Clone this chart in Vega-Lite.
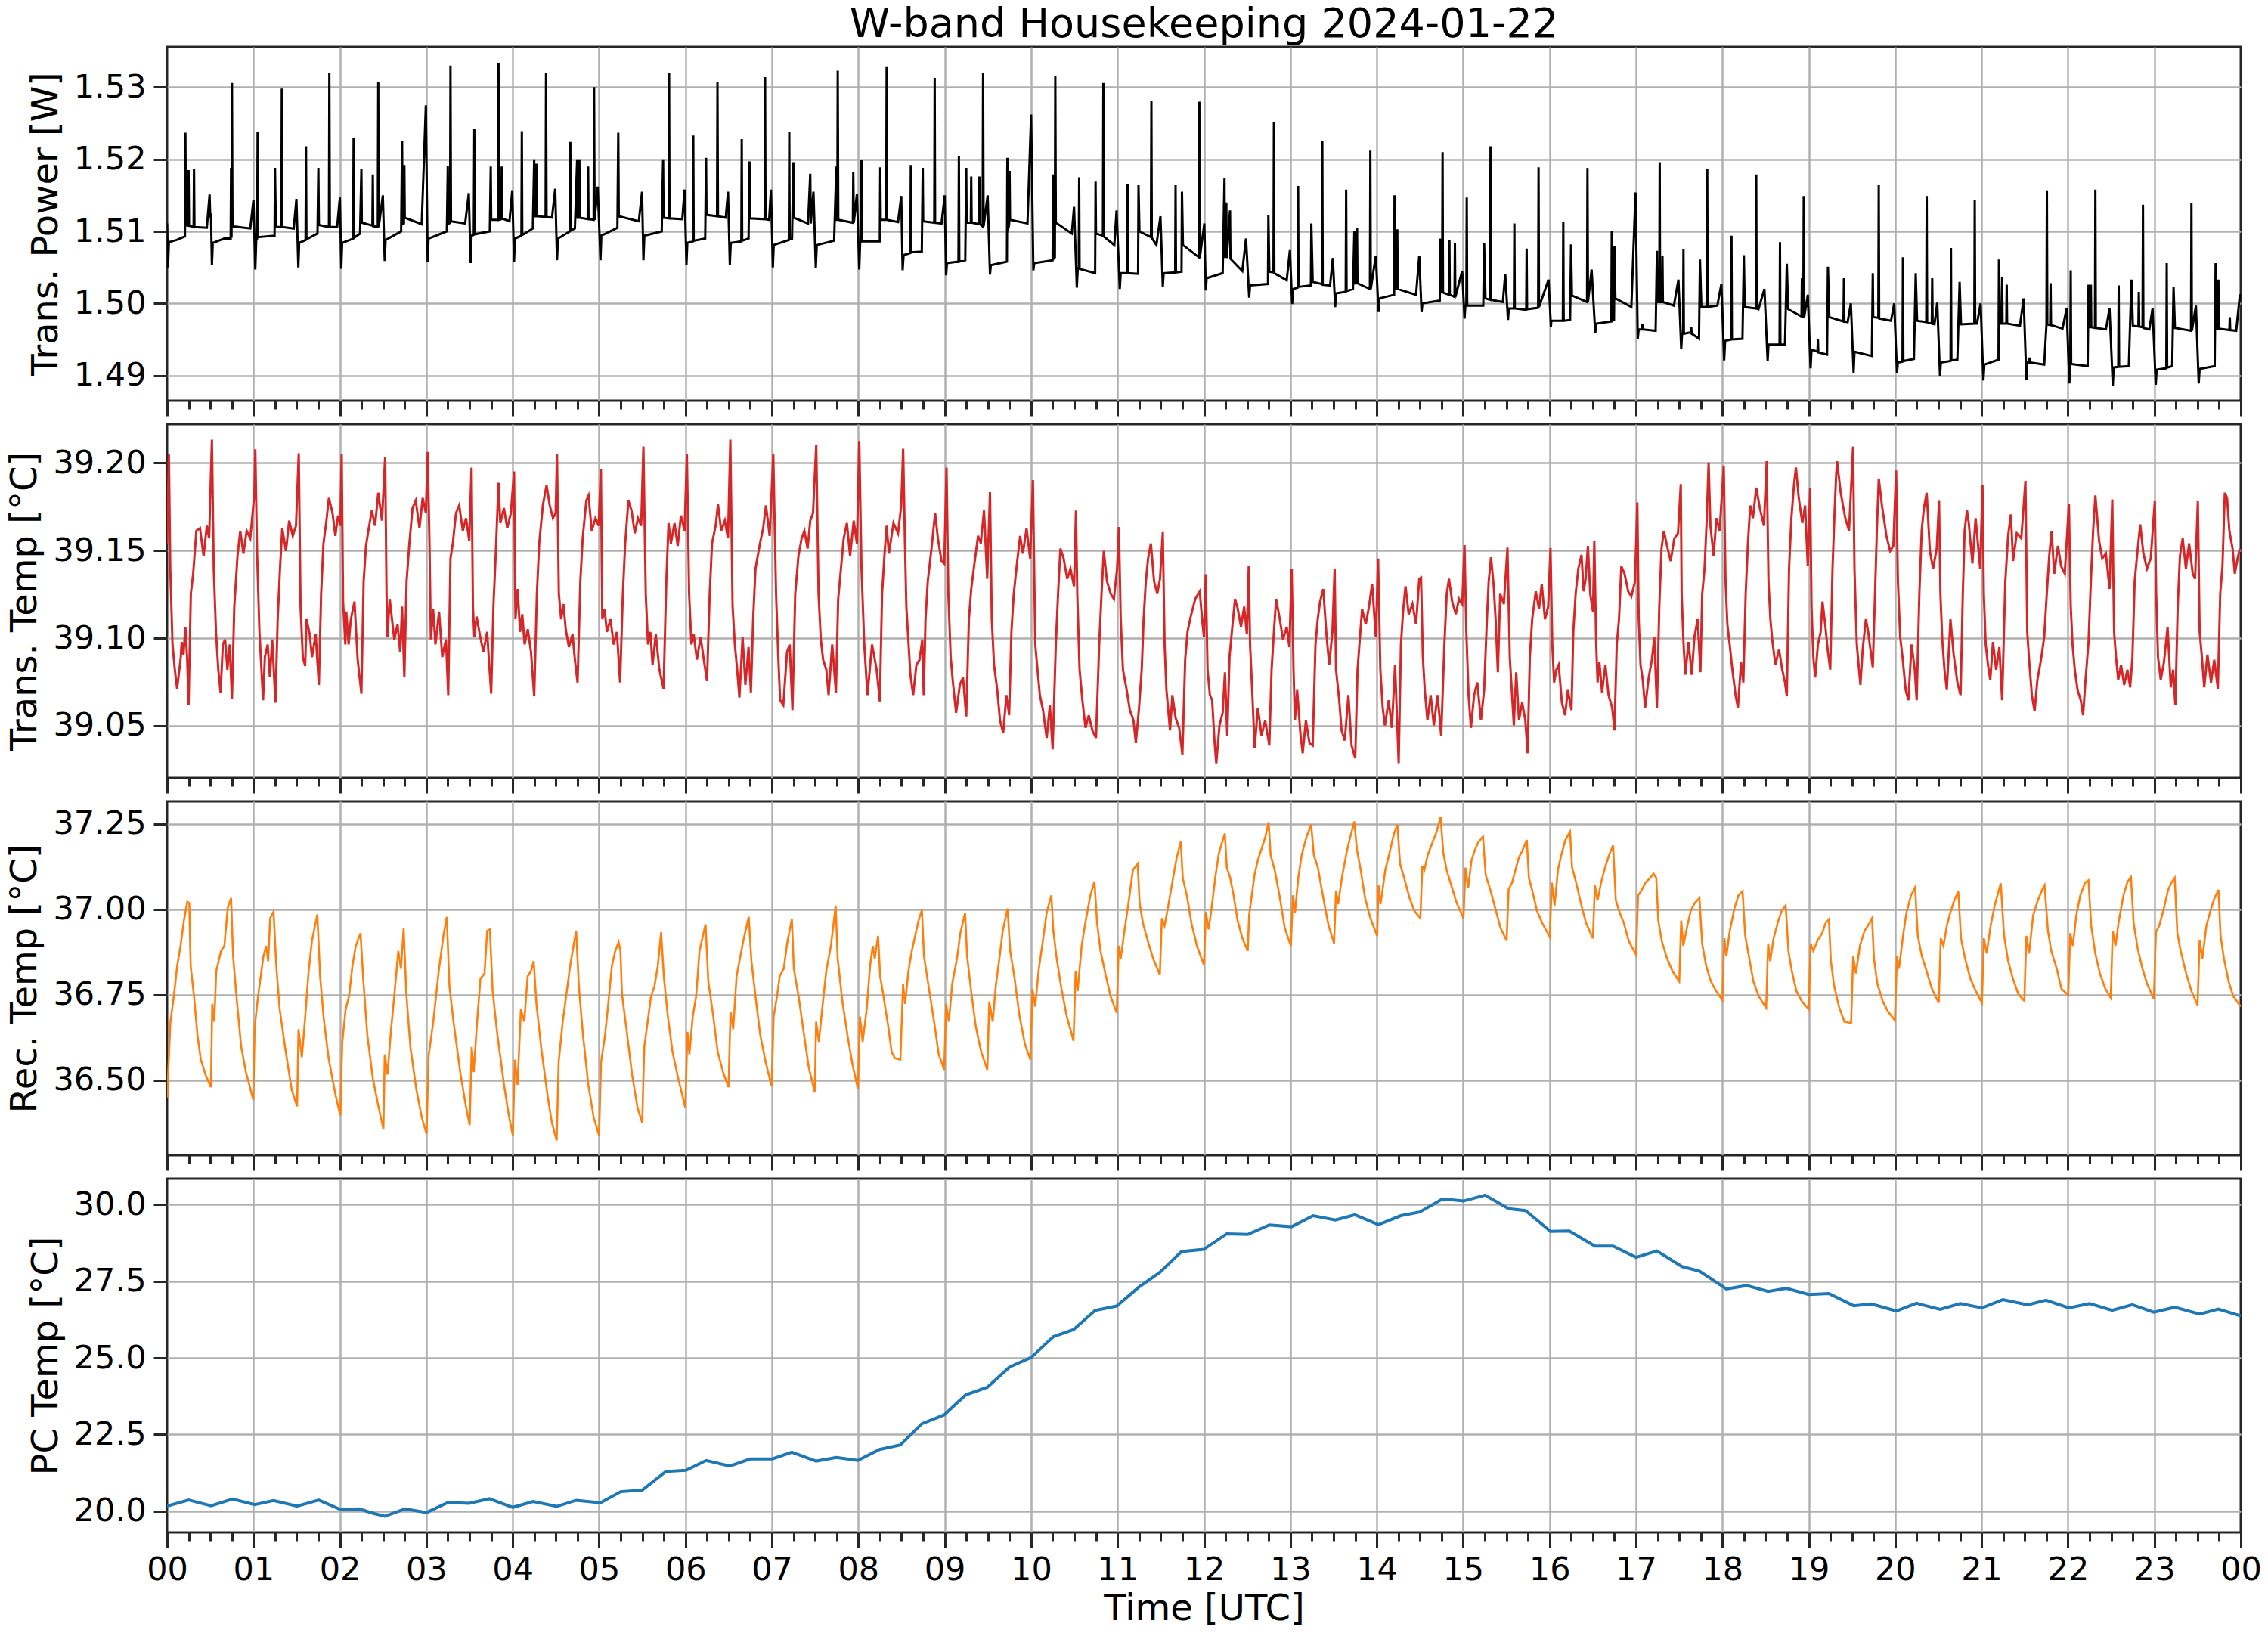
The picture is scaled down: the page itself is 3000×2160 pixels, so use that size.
{
"$schema":"https://vega.github.io/schema/vega-lite/v6.json",
"background":"white",
"padding":{"left":8,"top":4,"right":0,"bottom":0},
"spacing":6,
"datasets":{
"pw":[{"t":0,"v":1.5111},{"t":0.011,"v":1.505},{"t":0.021,"v":1.5085},{"t":0.11,"v":1.5088},{"t":0.207,"v":1.5093},{"t":0.212,"v":1.5237},{"t":0.218,"v":1.5109},{"t":0.244,"v":1.5108},{"t":0.249,"v":1.5185},{"t":0.254,"v":1.5108},{"t":0.307,"v":1.5106},{"t":0.312,"v":1.5187},{"t":0.317,"v":1.5106},{"t":0.46,"v":1.5105},{"t":0.492,"v":1.5151},{"t":0.5,"v":1.5118},{"t":0.508,"v":1.5125},{"t":0.519,"v":1.5053},
{"t":0.529,"v":1.5084},{"t":0.661,"v":1.509},{"t":0.736,"v":1.509},{"t":0.741,"v":1.5188},{"t":0.746,"v":1.5091},{"t":0.751,"v":1.5306},{"t":0.757,"v":1.5107},{"t":0.963,"v":1.5104},{"t":1.0,"v":1.5144},{"t":1.021,"v":1.5047},
{"t":1.032,"v":1.5088},{"t":1.043,"v":1.509},{"t":1.048,"v":1.5238},{"t":1.053,"v":1.5092},{"t":1.244,"v":1.5094},{"t":1.249,"v":1.5188},{"t":1.259,"v":1.5106},{"t":1.323,"v":1.5106},{"t":1.328,"v":1.5298},{"t":1.333,"v":1.5106},{"t":1.466,"v":1.5104},{"t":1.497,"v":1.5145},{"t":1.519,"v":1.505},
{"t":1.529,"v":1.5084},{"t":1.603,"v":1.5088},{"t":1.608,"v":1.5218},{"t":1.613,"v":1.5089},{"t":1.741,"v":1.5097},{"t":1.751,"v":1.5188},{"t":1.757,"v":1.5109},{"t":1.873,"v":1.5106},{"t":1.878,"v":1.532},{"t":1.884,"v":1.5106},{"t":1.968,"v":1.5106},{"t":2.0,"v":1.5147},{"t":2.016,"v":1.5048},
{"t":2.026,"v":1.5084},{"t":2.154,"v":1.509},{"t":2.159,"v":1.5229},{"t":2.164,"v":1.5091},{"t":2.233,"v":1.5097},{"t":2.249,"v":1.5186},{"t":2.254,"v":1.5112},{"t":2.376,"v":1.5108},{"t":2.381,"v":1.5179},{"t":2.386,"v":1.5107},{"t":2.439,"v":1.5106},{"t":2.444,"v":1.5307},{"t":2.45,"v":1.5106},{"t":2.497,"v":1.515},{"t":2.519,"v":1.5059},
{"t":2.529,"v":1.5088},{"t":2.709,"v":1.51},{"t":2.72,"v":1.5225},{"t":2.726,"v":1.511},{"t":2.741,"v":1.5111},{"t":2.746,"v":1.5192},{"t":2.751,"v":1.5119},{"t":2.947,"v":1.511},{"t":2.995,"v":1.5275},{"t":3.016,"v":1.5057},
{"t":3.026,"v":1.509},{"t":3.238,"v":1.51},{"t":3.249,"v":1.5191},{"t":3.254,"v":1.511},{"t":3.275,"v":1.5112},{"t":3.28,"v":1.533},{"t":3.286,"v":1.5114},{"t":3.45,"v":1.5111},{"t":3.492,"v":1.5153},{"t":3.513,"v":1.5056},
{"t":3.524,"v":1.5094},{"t":3.55,"v":1.5095},{"t":3.556,"v":1.5242},{"t":3.561,"v":1.5096},{"t":3.735,"v":1.51},{"t":3.746,"v":1.519},{"t":3.751,"v":1.5116},{"t":3.831,"v":1.5116},{"t":3.836,"v":1.5334},{"t":3.841,"v":1.5116},{"t":3.868,"v":1.5117},{"t":3.873,"v":1.519},{"t":3.878,"v":1.5118},{"t":3.963,"v":1.5114},{"t":3.995,"v":1.5157},{"t":4.016,"v":1.5058},
{"t":4.026,"v":1.509},{"t":4.101,"v":1.5094},{"t":4.106,"v":1.5239},{"t":4.111,"v":1.5095},{"t":4.233,"v":1.5104},{"t":4.249,"v":1.52},{"t":4.254,"v":1.5121},{"t":4.27,"v":1.5121},{"t":4.275,"v":1.5194},{"t":4.28,"v":1.5121},{"t":4.381,"v":1.512},{"t":4.386,"v":1.532},{"t":4.392,"v":1.512},{"t":4.455,"v":1.5119},{"t":4.492,"v":1.5159},{"t":4.513,"v":1.506},
{"t":4.524,"v":1.509},{"t":4.662,"v":1.51},{"t":4.667,"v":1.5224},{"t":4.672,"v":1.5101},{"t":4.72,"v":1.5104},{"t":4.746,"v":1.52},{"t":4.751,"v":1.5119},{"t":4.767,"v":1.5119},{"t":4.772,"v":1.52},{"t":4.777,"v":1.5119},{"t":4.868,"v":1.5117},{"t":4.873,"v":1.519},{"t":4.878,"v":1.5117},{"t":4.937,"v":1.5116},{"t":4.942,"v":1.53},{"t":4.948,"v":1.5116},{"t":4.984,"v":1.5162},{"t":5.016,"v":1.506},
{"t":5.026,"v":1.5094},{"t":5.212,"v":1.5105},{"t":5.222,"v":1.5237},{"t":5.228,"v":1.5121},{"t":5.46,"v":1.5114},{"t":5.497,"v":1.5155},{"t":5.513,"v":1.506},
{"t":5.524,"v":1.5094},{"t":5.725,"v":1.51},{"t":5.741,"v":1.52},{"t":5.746,"v":1.5119},{"t":5.805,"v":1.5118},{"t":5.81,"v":1.532},{"t":5.815,"v":1.5118},{"t":5.963,"v":1.5117},{"t":5.989,"v":1.5158},{"t":6.011,"v":1.5054},
{"t":6.021,"v":1.5084},{"t":6.085,"v":1.5086},{"t":6.09,"v":1.5233},{"t":6.095,"v":1.5087},{"t":6.228,"v":1.509},{"t":6.238,"v":1.5202},{"t":6.243,"v":1.5123},{"t":6.365,"v":1.5121},{"t":6.37,"v":1.5307},{"t":6.376,"v":1.5121},{"t":6.466,"v":1.5119},{"t":6.492,"v":1.5155},{"t":6.513,"v":1.5054},
{"t":6.524,"v":1.5084},{"t":6.646,"v":1.5086},{"t":6.651,"v":1.5228},{"t":6.656,"v":1.5087},{"t":6.73,"v":1.509},{"t":6.741,"v":1.5197},{"t":6.746,"v":1.5118},{"t":6.916,"v":1.5117},{"t":6.921,"v":1.5314},{"t":6.926,"v":1.5117},{"t":6.968,"v":1.5116},{"t":6.989,"v":1.5158},{"t":7.011,"v":1.505},
{"t":7.021,"v":1.5081},{"t":7.196,"v":1.5088},{"t":7.201,"v":1.5238},{"t":7.206,"v":1.5089},{"t":7.233,"v":1.509},{"t":7.249,"v":1.5196},{"t":7.254,"v":1.5119},{"t":7.418,"v":1.5111},{"t":7.444,"v":1.518},{"t":7.45,"v":1.5111},{"t":7.481,"v":1.5155},{"t":7.508,"v":1.5049},
{"t":7.519,"v":1.5081},{"t":7.72,"v":1.5087},{"t":7.746,"v":1.519},{"t":7.751,"v":1.5116},{"t":7.757,"v":1.5116},{"t":7.762,"v":1.5323},{"t":7.768,"v":1.5116},{"t":7.937,"v":1.5112},{"t":7.942,"v":1.5182},{"t":7.948,"v":1.5112},{"t":7.984,"v":1.5152},{"t":8.011,"v":1.5047},
{"t":8.021,"v":1.5084},{"t":8.032,"v":1.5086},{"t":8.037,"v":1.5199},{"t":8.042,"v":1.5086},{"t":8.249,"v":1.5086},{"t":8.254,"v":1.5189},{"t":8.259,"v":1.5116},{"t":8.323,"v":1.5116},{"t":8.328,"v":1.5329},{"t":8.333,"v":1.5116},{"t":8.46,"v":1.5113},{"t":8.497,"v":1.5149},{"t":8.513,"v":1.5046},
{"t":8.524,"v":1.5067},{"t":8.603,"v":1.507},{"t":8.608,"v":1.5192},{"t":8.613,"v":1.5071},{"t":8.735,"v":1.5072},{"t":8.746,"v":1.5188},{"t":8.751,"v":1.5114},{"t":8.879,"v":1.5112},{"t":8.884,"v":1.5313},{"t":8.889,"v":1.5112},{"t":8.963,"v":1.5111},{"t":9.0,"v":1.515},{"t":9.016,"v":1.5039},
{"t":9.026,"v":1.5056},{"t":9.159,"v":1.5058},{"t":9.164,"v":1.5204},{"t":9.169,"v":1.5058},{"t":9.238,"v":1.506},{"t":9.249,"v":1.5188},{"t":9.254,"v":1.5112},{"t":9.302,"v":1.5112},{"t":9.307,"v":1.5176},{"t":9.312,"v":1.5112},{"t":9.397,"v":1.511},{"t":9.402,"v":1.5176},{"t":9.407,"v":1.511},{"t":9.439,"v":1.5107},{"t":9.444,"v":1.532},{"t":9.45,"v":1.5107},{"t":9.497,"v":1.515},{"t":9.524,"v":1.504},
{"t":9.534,"v":1.5053},{"t":9.72,"v":1.5058},{"t":9.725,"v":1.5202},{"t":9.73,"v":1.51},{"t":9.746,"v":1.511},{"t":9.751,"v":1.5184},{"t":9.756,"v":1.5116},{"t":9.958,"v":1.5111},{"t":10.0,"v":1.5262},{"t":10.026,"v":1.5046},
{"t":10.037,"v":1.5056},{"t":10.249,"v":1.506},{"t":10.254,"v":1.5179},{"t":10.259,"v":1.5062},{"t":10.275,"v":1.5064},{"t":10.28,"v":1.5315},{"t":10.286,"v":1.5112},{"t":10.471,"v":1.5097},{"t":10.497,"v":1.5134},{"t":10.529,"v":1.5022},
{"t":10.54,"v":1.5049},{"t":10.551,"v":1.5049},{"t":10.556,"v":1.5175},{"t":10.561,"v":1.5048},{"t":10.741,"v":1.5042},{"t":10.746,"v":1.5169},{"t":10.751,"v":1.5097},{"t":10.831,"v":1.5094},{"t":10.836,"v":1.5306},{"t":10.841,"v":1.5093},{"t":10.963,"v":1.5081},{"t":10.989,"v":1.5129},{"t":11.026,"v":1.502},
{"t":11.037,"v":1.5042},{"t":11.111,"v":1.5042},{"t":11.116,"v":1.5165},{"t":11.121,"v":1.5042},{"t":11.238,"v":1.5041},{"t":11.243,"v":1.5164},{"t":11.254,"v":1.51},{"t":11.387,"v":1.5092},{"t":11.392,"v":1.5281},{"t":11.397,"v":1.5091},{"t":11.45,"v":1.5081},{"t":11.497,"v":1.5121},{"t":11.524,"v":1.5023},
{"t":11.534,"v":1.5042},{"t":11.667,"v":1.5043},{"t":11.672,"v":1.5164},{"t":11.677,"v":1.5043},{"t":11.741,"v":1.5044},{"t":11.746,"v":1.5155},{"t":11.757,"v":1.5081},{"t":11.942,"v":1.5064},{"t":11.947,"v":1.528},{"t":11.952,"v":1.5063},{"t":12.005,"v":1.5111},{"t":12.021,"v":1.5018},
{"t":12.032,"v":1.5035},{"t":12.217,"v":1.5042},{"t":12.238,"v":1.5174},{"t":12.243,"v":1.5063},{"t":12.259,"v":1.514},{"t":12.264,"v":1.5063},{"t":12.302,"v":1.5129},{"t":12.307,"v":1.5062},{"t":12.444,"v":1.5045},{"t":12.487,"v":1.509},{"t":12.524,"v":1.5008},
{"t":12.534,"v":1.5025},{"t":12.741,"v":1.5027},{"t":12.746,"v":1.5122},{"t":12.757,"v":1.5044},{"t":12.805,"v":1.5043},{"t":12.81,"v":1.5252},{"t":12.815,"v":1.5042},{"t":12.958,"v":1.5032},{"t":12.995,"v":1.5074},{"t":13.021,"v":1.4999},
{"t":13.032,"v":1.502},{"t":13.085,"v":1.5022},{"t":13.09,"v":1.5163},{"t":13.095,"v":1.5023},{"t":13.238,"v":1.5025},{"t":13.243,"v":1.5111},{"t":13.259,"v":1.503},{"t":13.365,"v":1.5027},{"t":13.37,"v":1.5226},{"t":13.375,"v":1.5026},{"t":13.46,"v":1.5025},{"t":13.492,"v":1.5063},{"t":13.519,"v":1.4995},
{"t":13.529,"v":1.5014},{"t":13.641,"v":1.5016},{"t":13.646,"v":1.5158},{"t":13.651,"v":1.5017},{"t":13.725,"v":1.502},{"t":13.741,"v":1.51},{"t":13.752,"v":1.5028},{"t":13.767,"v":1.5028},{"t":13.772,"v":1.5105},{"t":13.777,"v":1.5028},{"t":13.921,"v":1.502},{"t":13.926,"v":1.5212},{"t":13.931,"v":1.502},{"t":13.989,"v":1.5066},{"t":14.021,"v":1.4988},
{"t":14.032,"v":1.5007},{"t":14.201,"v":1.5012},{"t":14.206,"v":1.515},{"t":14.211,"v":1.502},{"t":14.233,"v":1.502},{"t":14.238,"v":1.5103},{"t":14.243,"v":1.502},{"t":14.455,"v":1.5012},{"t":14.492,"v":1.5066},{"t":14.519,"v":1.4988},
{"t":14.529,"v":1.5},{"t":14.73,"v":1.5004},{"t":14.735,"v":1.509},{"t":14.74,"v":1.5016},{"t":14.757,"v":1.5016},{"t":14.762,"v":1.521},{"t":14.767,"v":1.5015},{"t":14.836,"v":1.5012},{"t":14.841,"v":1.5088},{"t":14.846,"v":1.5012},{"t":14.9,"v":1.5009},{"t":14.905,"v":1.5084},{"t":14.91,"v":1.5009},{"t":14.989,"v":1.5045},{"t":15.016,"v":1.4979},
{"t":15.026,"v":1.4997},{"t":15.037,"v":1.4997},{"t":15.042,"v":1.5147},{"t":15.047,"v":1.4997},{"t":15.233,"v":1.4997},{"t":15.243,"v":1.5084},{"t":15.259,"v":1.5007},{"t":15.312,"v":1.5005},{"t":15.317,"v":1.5218},{"t":15.322,"v":1.5005},{"t":15.46,"v":1.5002},{"t":15.487,"v":1.5041},{"t":15.519,"v":1.4977},
{"t":15.529,"v":1.4993},{"t":15.588,"v":1.4993},{"t":15.593,"v":1.5111},{"t":15.598,"v":1.4993},{"t":15.73,"v":1.4991},{"t":15.735,"v":1.5076},{"t":15.74,"v":1.4992},{"t":15.868,"v":1.4994},{"t":15.873,"v":1.5189},{"t":15.878,"v":1.4995},{"t":15.989,"v":1.5033},{"t":16.016,"v":1.4968},
{"t":16.021,"v":1.4976},{"t":16.154,"v":1.4976},{"t":16.159,"v":1.5113},{"t":16.164,"v":1.4976},{"t":16.238,"v":1.4977},{"t":16.249,"v":1.5082},{"t":16.259,"v":1.5011},{"t":16.434,"v":1.5002},{"t":16.439,"v":1.5188},{"t":16.445,"v":1.5002},{"t":16.487,"v":1.5047},{"t":16.529,"v":1.4959},
{"t":16.54,"v":1.4972},{"t":16.715,"v":1.4975},{"t":16.72,"v":1.51},{"t":16.725,"v":1.4976},{"t":16.746,"v":1.4977},{"t":16.751,"v":1.5079},{"t":16.762,"v":1.5007},{"t":16.947,"v":1.4995},{"t":16.995,"v":1.5154},{"t":17.021,"v":1.4951},
{"t":17.032,"v":1.4964},{"t":17.069,"v":1.4964},{"t":17.074,"v":1.4972},{"t":17.079,"v":1.4964},{"t":17.228,"v":1.4962},{"t":17.243,"v":1.5073},{"t":17.248,"v":1.5002},{"t":17.27,"v":1.5002},{"t":17.275,"v":1.5196},{"t":17.28,"v":1.5002},{"t":17.302,"v":1.5002},{"t":17.307,"v":1.5066},{"t":17.312,"v":1.5002},{"t":17.439,"v":1.4997},{"t":17.492,"v":1.5033},{"t":17.524,"v":1.4937},
{"t":17.534,"v":1.4958},{"t":17.545,"v":1.4958},{"t":17.55,"v":1.5076},{"t":17.555,"v":1.4958},{"t":17.635,"v":1.496},{"t":17.64,"v":1.4967},{"t":17.645,"v":1.4958},{"t":17.73,"v":1.4951},{"t":17.741,"v":1.5061},{"t":17.757,"v":1.4995},{"t":17.82,"v":1.4995},{"t":17.825,"v":1.5187},{"t":17.83,"v":1.4995},{"t":17.942,"v":1.4997},{"t":17.989,"v":1.5027},{"t":18.021,"v":1.4921},
{"t":18.032,"v":1.4948},{"t":18.101,"v":1.495},{"t":18.106,"v":1.5094},{"t":18.111,"v":1.495},{"t":18.233,"v":1.4951},{"t":18.249,"v":1.5067},{"t":18.259,"v":1.4995},{"t":18.387,"v":1.4993},{"t":18.392,"v":1.5179},{"t":18.397,"v":1.4993},{"t":18.418,"v":1.4992},{"t":18.487,"v":1.502},{"t":18.524,"v":1.492},
{"t":18.534,"v":1.4943},{"t":18.662,"v":1.4943},{"t":18.667,"v":1.5085},{"t":18.672,"v":1.4943},{"t":18.725,"v":1.4943},{"t":18.746,"v":1.5055},{"t":18.762,"v":1.4992},{"t":18.916,"v":1.4982},{"t":18.921,"v":1.5035},{"t":18.926,"v":1.4981},{"t":18.937,"v":1.4981},{"t":18.942,"v":1.5149},{"t":18.947,"v":1.4981},{"t":18.989,"v":1.5012},{"t":19.021,"v":1.491},
{"t":19.032,"v":1.4936},{"t":19.101,"v":1.4933},{"t":19.106,"v":1.495},{"t":19.111,"v":1.4932},{"t":19.212,"v":1.4929},{"t":19.222,"v":1.5051},{"t":19.238,"v":1.4981},{"t":19.402,"v":1.4975},{"t":19.407,"v":1.5035},{"t":19.412,"v":1.4975},{"t":19.45,"v":1.4974},{"t":19.487,"v":1.5},{"t":19.519,"v":1.4904},
{"t":19.529,"v":1.4933},{"t":19.73,"v":1.4927},{"t":19.741,"v":1.5042},{"t":19.746,"v":1.4981},{"t":19.805,"v":1.498},{"t":19.81,"v":1.5164},{"t":19.815,"v":1.4979},{"t":19.952,"v":1.4976},{"t":19.989,"v":1.5},{"t":20.021,"v":1.4904},
{"t":20.032,"v":1.4918},{"t":20.085,"v":1.4919},{"t":20.09,"v":1.5064},{"t":20.095,"v":1.492},{"t":20.217,"v":1.4923},{"t":20.238,"v":1.5042},{"t":20.254,"v":1.4976},{"t":20.36,"v":1.4974},{"t":20.365,"v":1.5149},{"t":20.37,"v":1.4974},{"t":20.424,"v":1.4972},{"t":20.429,"v":1.5035},{"t":20.434,"v":1.4972},{"t":20.455,"v":1.4971},{"t":20.487,"v":1.5001},{"t":20.519,"v":1.4899},
{"t":20.529,"v":1.4918},{"t":20.641,"v":1.492},{"t":20.646,"v":1.5077},{"t":20.651,"v":1.4921},{"t":20.72,"v":1.4922},{"t":20.746,"v":1.503},{"t":20.762,"v":1.4971},{"t":20.916,"v":1.4972},{"t":20.921,"v":1.5144},{"t":20.926,"v":1.4972},{"t":20.947,"v":1.4972},{"t":20.989,"v":1.5},{"t":21.021,"v":1.4893},
{"t":21.032,"v":1.4915},{"t":21.196,"v":1.4922},{"t":21.201,"v":1.5061},{"t":21.212,"v":1.4972},{"t":21.233,"v":1.4972},{"t":21.238,"v":1.5037},{"t":21.243,"v":1.4972},{"t":21.286,"v":1.4972},{"t":21.291,"v":1.5026},{"t":21.296,"v":1.4972},{"t":21.444,"v":1.4969},{"t":21.487,"v":1.5007},{"t":21.519,"v":1.4894},
{"t":21.529,"v":1.4918},{"t":21.551,"v":1.4918},{"t":21.556,"v":1.4925},{"t":21.561,"v":1.4918},{"t":21.725,"v":1.4915},{"t":21.751,"v":1.4971},{"t":21.756,"v":1.5157},{"t":21.761,"v":1.4971},{"t":21.794,"v":1.497},{"t":21.799,"v":1.5028},{"t":21.804,"v":1.497},{"t":21.937,"v":1.4965},{"t":21.984,"v":1.4993},{"t":22.016,"v":1.4889},
{"t":22.026,"v":1.4916},{"t":22.032,"v":1.5046},{"t":22.037,"v":1.4916},{"t":22.228,"v":1.4913},{"t":22.238,"v":1.5026},{"t":22.243,"v":1.4967},{"t":22.26,"v":1.4967},{"t":22.265,"v":1.5026},{"t":22.27,"v":1.4967},{"t":22.312,"v":1.4966},{"t":22.317,"v":1.5158},{"t":22.322,"v":1.4966},{"t":22.439,"v":1.4964},{"t":22.481,"v":1.4993},{"t":22.519,"v":1.4886},
{"t":22.529,"v":1.4911},{"t":22.582,"v":1.4912},{"t":22.587,"v":1.5025},{"t":22.592,"v":1.4912},{"t":22.704,"v":1.4913},{"t":22.735,"v":1.5033},{"t":22.751,"v":1.4969},{"t":22.815,"v":1.4968},{"t":22.82,"v":1.5016},{"t":22.825,"v":1.4968},{"t":22.863,"v":1.4967},{"t":22.868,"v":1.5137},{"t":22.873,"v":1.4966},{"t":22.942,"v":1.4964},{"t":22.979,"v":1.4993},{"t":23.016,"v":1.4887},
{"t":23.026,"v":1.4908},{"t":23.138,"v":1.491},{"t":23.143,"v":1.5056},{"t":23.148,"v":1.4911},{"t":23.206,"v":1.4913},{"t":23.222,"v":1.5023},{"t":23.238,"v":1.4966},{"t":23.424,"v":1.4962},{"t":23.429,"v":1.5139},{"t":23.434,"v":1.4962},{"t":23.481,"v":1.4997},{"t":23.513,"v":1.4889},
{"t":23.524,"v":1.4909},{"t":23.698,"v":1.4913},{"t":23.709,"v":1.5056},{"t":23.72,"v":1.4965},{"t":23.736,"v":1.4965},{"t":23.741,"v":1.5033},{"t":23.746,"v":1.4965},{"t":23.868,"v":1.4963},{"t":23.873,"v":1.4981},{"t":23.878,"v":1.4963},{"t":23.947,"v":1.4962},{"t":23.989,"v":1.5011},{"t":24.0,"v":1.5011}],
"tt":[{"t":0,"v":39.1541},{"t":0.021,"v":39.2049},{"t":0.037,"v":39.1397},{"t":0.063,"v":39.0964},{"t":0.09,"v":39.082},{"t":0.116,"v":39.0711},{"t":0.159,"v":39.0892},{"t":0.169,"v":39.0978},{"t":0.19,"v":39.0906},{"t":0.212,"v":39.1065},{"t":0.233,"v":39.0877},{"t":0.249,"v":39.0618},{"t":0.275,"v":39.1253},{"t":0.302,"v":39.1368},{"t":0.339,"v":39.1613},{"t":0.381,"v":39.1628},{"t":0.423,"v":39.1469},{"t":0.46,"v":39.1642},{"t":0.487,"v":39.157},{"t":0.508,"v":39.1945},{"t":0.519,"v":39.2133},
{"t":0.54,"v":39.1397},{"t":0.566,"v":39.1036},{"t":0.593,"v":39.082},{"t":0.619,"v":39.069},{"t":0.646,"v":39.0964},{"t":0.672,"v":39.0993},{"t":0.698,"v":39.082},{"t":0.725,"v":39.0964},{"t":0.751,"v":39.0654},{"t":0.778,"v":39.118},{"t":0.815,"v":39.1469},{"t":0.847,"v":39.1613},{"t":0.884,"v":39.1483},{"t":0.921,"v":39.1613},{"t":0.963,"v":39.157},{"t":1.011,"v":39.183},{"t":1.021,"v":39.2078},
{"t":1.042,"v":39.1483},{"t":1.069,"v":39.1036},{"t":1.111,"v":39.0646},{"t":1.132,"v":39.0892},{"t":1.164,"v":39.0964},{"t":1.19,"v":39.0776},{"t":1.217,"v":39.0993},{"t":1.254,"v":39.0632},{"t":1.28,"v":39.1108},{"t":1.307,"v":39.1397},{"t":1.333,"v":39.1628},{"t":1.376,"v":39.1498},{"t":1.413,"v":39.1671},{"t":1.455,"v":39.1584},{"t":1.492,"v":39.1642},{"t":1.524,"v":39.2056},
{"t":1.545,"v":39.118},{"t":1.571,"v":39.0892},{"t":1.598,"v":39.0841},{"t":1.614,"v":39.1108},{"t":1.651,"v":39.1022},{"t":1.677,"v":39.0892},{"t":1.72,"v":39.1022},{"t":1.757,"v":39.0733},{"t":1.783,"v":39.1253},{"t":1.81,"v":39.1541},{"t":1.841,"v":39.1657},{"t":1.873,"v":39.1801},{"t":1.915,"v":39.1714},{"t":1.947,"v":39.1584},{"t":1.979,"v":39.17},{"t":2.005,"v":39.1642},{"t":2.021,"v":39.2049},
{"t":2.037,"v":39.1209},{"t":2.063,"v":39.0964},{"t":2.074,"v":39.1152},{"t":2.101,"v":39.0964},{"t":2.127,"v":39.1108},{"t":2.169,"v":39.1209},{"t":2.206,"v":39.0877},{"t":2.249,"v":39.0683},{"t":2.275,"v":39.1325},{"t":2.302,"v":39.1527},{"t":2.339,"v":39.1642},{"t":2.37,"v":39.1729},{"t":2.407,"v":39.1642},{"t":2.444,"v":39.183},{"t":2.487,"v":39.1671},{"t":2.524,"v":39.2035},
{"t":2.54,"v":39.1253},{"t":2.55,"v":39.1007},{"t":2.577,"v":39.1224},{"t":2.603,"v":39.1108},{"t":2.63,"v":39.0993},{"t":2.667,"v":39.1079},{"t":2.698,"v":39.0921},{"t":2.72,"v":39.118},{"t":2.746,"v":39.0776},{"t":2.772,"v":39.1325},{"t":2.804,"v":39.1541},{"t":2.841,"v":39.1743},{"t":2.878,"v":39.1786},{"t":2.921,"v":39.1628},{"t":2.958,"v":39.1801},{"t":2.995,"v":39.1714},{"t":3.016,"v":39.2063},
{"t":3.037,"v":39.1541},{"t":3.053,"v":39.0993},{"t":3.079,"v":39.1166},{"t":3.106,"v":39.0964},{"t":3.148,"v":39.1152},{"t":3.185,"v":39.0892},{"t":3.228,"v":39.0993},{"t":3.254,"v":39.0675},{"t":3.28,"v":39.1455},{"t":3.307,"v":39.1541},{"t":3.344,"v":39.1714},{"t":3.381,"v":39.1758},{"t":3.423,"v":39.1613},{"t":3.46,"v":39.1685},{"t":3.497,"v":39.1556},{"t":3.524,"v":39.1974},
{"t":3.54,"v":39.118},{"t":3.556,"v":39.1007},{"t":3.582,"v":39.1123},{"t":3.619,"v":39.1022},{"t":3.661,"v":39.0921},{"t":3.704,"v":39.1036},{"t":3.751,"v":39.0683},{"t":3.778,"v":39.1195},{"t":3.804,"v":39.1483},{"t":3.836,"v":39.1887},{"t":3.857,"v":39.1657},{"t":3.899,"v":39.1743},{"t":3.937,"v":39.1628},{"t":3.979,"v":39.1714},{"t":4.016,"v":39.1952},
{"t":4.032,"v":39.1108},{"t":4.058,"v":39.1281},{"t":4.085,"v":39.1036},{"t":4.111,"v":39.1137},{"t":4.138,"v":39.0964},{"t":4.175,"v":39.1051},{"t":4.212,"v":39.0921},{"t":4.249,"v":39.0668},{"t":4.28,"v":39.1253},{"t":4.307,"v":39.1541},{"t":4.349,"v":39.1758},{"t":4.392,"v":39.1873},{"t":4.429,"v":39.1758},{"t":4.466,"v":39.1685},{"t":4.497,"v":39.1714},{"t":4.513,"v":39.2049},
{"t":4.534,"v":39.1253},{"t":4.561,"v":39.1108},{"t":4.587,"v":39.1195},{"t":4.614,"v":39.1051},{"t":4.651,"v":39.0949},{"t":4.693,"v":39.1022},{"t":4.72,"v":39.0877},{"t":4.751,"v":39.0747},{"t":4.783,"v":39.1325},{"t":4.81,"v":39.157},{"t":4.852,"v":39.1786},{"t":4.878,"v":39.1815},{"t":4.915,"v":39.1613},{"t":4.958,"v":39.1685},{"t":4.995,"v":39.1642},{"t":5.021,"v":39.1965},
{"t":5.037,"v":39.1108},{"t":5.063,"v":39.1166},{"t":5.09,"v":39.1036},{"t":5.132,"v":39.1108},{"t":5.169,"v":39.0964},{"t":5.206,"v":39.1036},{"t":5.243,"v":39.0747},{"t":5.275,"v":39.1253},{"t":5.302,"v":39.1541},{"t":5.339,"v":39.1786},{"t":5.376,"v":39.1729},{"t":5.413,"v":39.1599},{"t":5.45,"v":39.1685},{"t":5.487,"v":39.1642},{"t":5.513,"v":39.2095},
{"t":5.54,"v":39.1253},{"t":5.566,"v":39.0964},{"t":5.593,"v":39.1036},{"t":5.619,"v":39.0848},{"t":5.656,"v":39.1022},{"t":5.698,"v":39.082},{"t":5.746,"v":39.0711},{"t":5.778,"v":39.1325},{"t":5.804,"v":39.1657},{"t":5.831,"v":39.1541},{"t":5.873,"v":39.1657},{"t":5.91,"v":39.1527},{"t":5.947,"v":39.17},{"t":5.989,"v":39.1613},{"t":6.016,"v":39.2049},
{"t":6.042,"v":39.1253},{"t":6.069,"v":39.0964},{"t":6.095,"v":39.1022},{"t":6.132,"v":39.0877},{"t":6.175,"v":39.1007},{"t":6.212,"v":39.0877},{"t":6.249,"v":39.0755},{"t":6.28,"v":39.1253},{"t":6.307,"v":39.1541},{"t":6.349,"v":39.1642},{"t":6.376,"v":39.1765},{"t":6.413,"v":39.1613},{"t":6.455,"v":39.1671},{"t":6.492,"v":39.157},{"t":6.519,"v":39.2133},
{"t":6.545,"v":39.118},{"t":6.571,"v":39.0964},{"t":6.598,"v":39.082},{"t":6.624,"v":39.0661},{"t":6.661,"v":39.1007},{"t":6.693,"v":39.0733},{"t":6.73,"v":39.0949},{"t":6.757,"v":39.069},{"t":6.783,"v":39.1108},{"t":6.81,"v":39.1397},{"t":6.862,"v":39.1541},{"t":6.899,"v":39.1628},{"t":6.931,"v":39.1758},{"t":6.974,"v":39.1584},{"t":7.016,"v":39.2049},
{"t":7.048,"v":39.1253},{"t":7.074,"v":39.0892},{"t":7.095,"v":39.0646},{"t":7.132,"v":39.0618},{"t":7.175,"v":39.0921},{"t":7.206,"v":39.0964},{"t":7.238,"v":39.0589},{"t":7.27,"v":39.1253},{"t":7.307,"v":39.1469},{"t":7.344,"v":39.157},{"t":7.376,"v":39.1613},{"t":7.413,"v":39.1512},{"t":7.444,"v":39.1671},{"t":7.476,"v":39.1714},{"t":7.513,"v":39.2104},
{"t":7.54,"v":39.1253},{"t":7.566,"v":39.0993},{"t":7.593,"v":39.0877},{"t":7.63,"v":39.082},{"t":7.656,"v":39.0675},{"t":7.698,"v":39.0964},{"t":7.741,"v":39.069},{"t":7.767,"v":39.1224},{"t":7.799,"v":39.1397},{"t":7.831,"v":39.157},{"t":7.868,"v":39.1657},{"t":7.905,"v":39.1469},{"t":7.947,"v":39.1671},{"t":7.984,"v":39.1541},{"t":8.011,"v":39.2126},
{"t":8.037,"v":39.1397},{"t":8.069,"v":39.0964},{"t":8.106,"v":39.0675},{"t":8.159,"v":39.0964},{"t":8.212,"v":39.082},{"t":8.249,"v":39.0639},{"t":8.275,"v":39.1253},{"t":8.302,"v":39.1469},{"t":8.328,"v":39.1642},{"t":8.354,"v":39.1483},{"t":8.407,"v":39.1657},{"t":8.46,"v":39.1599},{"t":8.497,"v":39.1758},{"t":8.519,"v":39.2082},
{"t":8.54,"v":39.1541},{"t":8.556,"v":39.118},{"t":8.582,"v":39.0964},{"t":8.603,"v":39.0791},{"t":8.635,"v":39.0675},{"t":8.672,"v":39.0848},{"t":8.709,"v":39.0877},{"t":8.741,"v":39.0993},{"t":8.757,"v":39.0675},{"t":8.778,"v":39.1108},{"t":8.804,"v":39.1325},{"t":8.847,"v":39.1512},{"t":8.889,"v":39.1714},{"t":8.921,"v":39.157},{"t":8.963,"v":39.144},{"t":8.995,"v":39.1426},{"t":9.021,"v":39.1974},
{"t":9.042,"v":39.1253},{"t":9.069,"v":39.0892},{"t":9.095,"v":39.0747},{"t":9.132,"v":39.0574},{"t":9.175,"v":39.0733},{"t":9.212,"v":39.0776},{"t":9.249,"v":39.0553},{"t":9.28,"v":39.1108},{"t":9.307,"v":39.1281},{"t":9.344,"v":39.1426},{"t":9.386,"v":39.1584},{"t":9.418,"v":39.1541},{"t":9.455,"v":39.1729},{"t":9.492,"v":39.1339},{"t":9.524,"v":39.1833},
{"t":9.545,"v":39.1108},{"t":9.571,"v":39.0848},{"t":9.608,"v":39.0704},{"t":9.64,"v":39.0531},{"t":9.677,"v":39.0459},{"t":9.714,"v":39.0675},{"t":9.746,"v":39.056},{"t":9.772,"v":39.1036},{"t":9.799,"v":39.1253},{"t":9.836,"v":39.1426},{"t":9.873,"v":39.1584},{"t":9.905,"v":39.1483},{"t":9.947,"v":39.1628},{"t":9.989,"v":39.1455},{"t":10.021,"v":39.1902},
{"t":10.048,"v":39.0964},{"t":10.074,"v":39.082},{"t":10.101,"v":39.0675},{"t":10.138,"v":39.0589},{"t":10.18,"v":39.043},{"t":10.217,"v":39.0618},{"t":10.249,"v":39.0365},{"t":10.286,"v":39.0964},{"t":10.312,"v":39.1253},{"t":10.339,"v":39.1512},{"t":10.376,"v":39.1455},{"t":10.418,"v":39.1339},{"t":10.455,"v":39.1397},{"t":10.497,"v":39.1296},{"t":10.519,"v":39.1729},
{"t":10.534,"v":39.1253},{"t":10.561,"v":39.082},{"t":10.593,"v":39.0646},{"t":10.63,"v":39.0488},{"t":10.667,"v":39.056},{"t":10.709,"v":39.0473},{"t":10.751,"v":39.043},{"t":10.788,"v":39.0964},{"t":10.815,"v":39.1253},{"t":10.841,"v":39.1498},{"t":10.878,"v":39.1325},{"t":10.921,"v":39.1253},{"t":10.958,"v":39.1224},{"t":10.995,"v":39.1397},{"t":11.016,"v":39.1635},
{"t":11.037,"v":39.1108},{"t":11.063,"v":39.082},{"t":11.106,"v":39.0704},{"t":11.143,"v":39.0589},{"t":11.185,"v":39.0531},{"t":11.212,"v":39.0401},{"t":11.249,"v":39.0603},{"t":11.28,"v":39.082},{"t":11.302,"v":39.1108},{"t":11.328,"v":39.1325},{"t":11.354,"v":39.1455},{"t":11.386,"v":39.1541},{"t":11.423,"v":39.1325},{"t":11.46,"v":39.1253},{"t":11.492,"v":39.1339},{"t":11.524,"v":39.1606},
{"t":11.545,"v":39.0964},{"t":11.566,"v":39.0704},{"t":11.608,"v":39.0473},{"t":11.635,"v":39.0675},{"t":11.672,"v":39.0545},{"t":11.714,"v":39.0488},{"t":11.751,"v":39.0336},{"t":11.783,"v":39.0877},{"t":11.81,"v":39.1036},{"t":11.847,"v":39.1123},{"t":11.899,"v":39.1224},{"t":11.952,"v":39.1267},{"t":11.979,"v":39.1108},{"t":12.0,"v":39.1007},{"t":12.021,"v":39.1365},
{"t":12.042,"v":39.082},{"t":12.069,"v":39.0675},{"t":12.095,"v":39.0646},{"t":12.122,"v":39.0416},{"t":12.143,"v":39.0286},{"t":12.18,"v":39.0502},{"t":12.217,"v":39.0574},{"t":12.243,"v":39.0805},{"t":12.27,"v":39.0444},{"t":12.296,"v":39.0892},{"t":12.323,"v":39.1036},{"t":12.36,"v":39.1224},{"t":12.392,"v":39.1166},{"t":12.429,"v":39.1065},{"t":12.466,"v":39.118},{"t":12.497,"v":39.1022},{"t":12.519,"v":39.1411},
{"t":12.534,"v":39.0964},{"t":12.561,"v":39.0675},{"t":12.587,"v":39.0372},{"t":12.624,"v":39.0603},{"t":12.667,"v":39.0444},{"t":12.709,"v":39.0531},{"t":12.757,"v":39.0387},{"t":12.783,"v":39.082},{"t":12.81,"v":39.1036},{"t":12.836,"v":39.1224},{"t":12.878,"v":39.1108},{"t":12.915,"v":39.0993},{"t":12.958,"v":39.1065},{"t":12.989,"v":39.0949},{"t":13.016,"v":39.1397},
{"t":13.037,"v":39.082},{"t":13.053,"v":39.0531},{"t":13.079,"v":39.0704},{"t":13.116,"v":39.0459},{"t":13.143,"v":39.0343},{"t":13.18,"v":39.0531},{"t":13.222,"v":39.0401},{"t":13.259,"v":39.0387},{"t":13.291,"v":39.0964},{"t":13.317,"v":39.1108},{"t":13.344,"v":39.1209},{"t":13.381,"v":39.1281},{"t":13.418,"v":39.1022},{"t":13.45,"v":39.0848},{"t":13.487,"v":39.1036},{"t":13.513,"v":39.1397},
{"t":13.529,"v":39.082},{"t":13.566,"v":39.0646},{"t":13.593,"v":39.0473},{"t":13.63,"v":39.0416},{"t":13.672,"v":39.0675},{"t":13.709,"v":39.0387},{"t":13.751,"v":39.0315},{"t":13.778,"v":39.082},{"t":13.804,"v":39.0993},{"t":13.831,"v":39.1166},{"t":13.873,"v":39.1079},{"t":13.91,"v":39.118},{"t":13.947,"v":39.131},{"t":13.989,"v":39.1007},{"t":14.016,"v":39.1455},
{"t":14.042,"v":39.082},{"t":14.069,"v":39.0603},{"t":14.095,"v":39.0502},{"t":14.138,"v":39.0646},{"t":14.175,"v":39.0488},{"t":14.212,"v":39.0848},{"t":14.254,"v":39.0286},{"t":14.28,"v":39.0964},{"t":14.307,"v":39.1166},{"t":14.333,"v":39.1296},{"t":14.37,"v":39.1137},{"t":14.413,"v":39.1195},{"t":14.455,"v":39.1079},{"t":14.492,"v":39.1339},{"t":14.513,"v":39.1346},
{"t":14.534,"v":39.0892},{"t":14.556,"v":39.0704},{"t":14.587,"v":39.0531},{"t":14.624,"v":39.0675},{"t":14.661,"v":39.0502},{"t":14.704,"v":39.0675},{"t":14.746,"v":39.0444},{"t":14.783,"v":39.0964},{"t":14.81,"v":39.1253},{"t":14.836,"v":39.1339},{"t":14.873,"v":39.1209},{"t":14.915,"v":39.1137},{"t":14.952,"v":39.1224},{"t":14.989,"v":39.1195},{"t":15.016,"v":39.1531},
{"t":15.037,"v":39.1036},{"t":15.063,"v":39.0675},{"t":15.09,"v":39.0488},{"t":15.127,"v":39.0675},{"t":15.164,"v":39.0747},{"t":15.206,"v":39.0531},{"t":15.243,"v":39.0704},{"t":15.275,"v":39.1108},{"t":15.296,"v":39.1325},{"t":15.323,"v":39.1462},{"t":15.354,"v":39.1296},{"t":15.376,"v":39.1108},{"t":15.402,"v":39.0805},{"t":15.429,"v":39.1253},{"t":15.471,"v":39.1195},{"t":15.513,"v":39.1517},
{"t":15.54,"v":39.0892},{"t":15.566,"v":39.0675},{"t":15.587,"v":39.0502},{"t":15.614,"v":39.0805},{"t":15.646,"v":39.0531},{"t":15.683,"v":39.0632},{"t":15.72,"v":39.0531},{"t":15.746,"v":39.0343},{"t":15.772,"v":39.0892},{"t":15.799,"v":39.1108},{"t":15.841,"v":39.1267},{"t":15.878,"v":39.1166},{"t":15.91,"v":39.131},{"t":15.947,"v":39.1108},{"t":15.984,"v":39.118},{"t":16.011,"v":39.1515},
{"t":16.032,"v":39.0964},{"t":16.053,"v":39.0747},{"t":16.079,"v":39.082},{"t":16.106,"v":39.0848},{"t":16.143,"v":39.0632},{"t":16.18,"v":39.056},{"t":16.212,"v":39.0704},{"t":16.254,"v":39.0589},{"t":16.275,"v":39.1036},{"t":16.302,"v":39.1253},{"t":16.333,"v":39.1397},{"t":16.37,"v":39.1476},{"t":16.395,"v":39.1267},{"t":16.418,"v":39.1339},{"t":16.444,"v":39.1527},{"t":16.471,"v":39.1253},{"t":16.503,"v":39.1152},{"t":16.518,"v":39.1556},
{"t":16.54,"v":39.0964},{"t":16.556,"v":39.0747},{"t":16.577,"v":39.0863},{"t":16.608,"v":39.069},{"t":16.646,"v":39.0848},{"t":16.683,"v":39.0675},{"t":16.725,"v":39.0603},{"t":16.751,"v":39.0473},{"t":16.778,"v":39.0964},{"t":16.804,"v":39.1108},{"t":16.831,"v":39.1411},{"t":16.868,"v":39.1368},{"t":16.91,"v":39.1267},{"t":16.947,"v":39.1238},{"t":16.989,"v":39.1325},{"t":17.016,"v":39.1775},
{"t":17.032,"v":39.1108},{"t":17.053,"v":39.0848},{"t":17.079,"v":39.0762},{"t":17.106,"v":39.0603},{"t":17.148,"v":39.0776},{"t":17.185,"v":39.0877},{"t":17.212,"v":39.1007},{"t":17.243,"v":39.0603},{"t":17.27,"v":39.118},{"t":17.296,"v":39.1512},{"t":17.323,"v":39.1613},{"t":17.36,"v":39.1527},{"t":17.402,"v":39.144},{"t":17.444,"v":39.157},{"t":17.487,"v":39.1599},{"t":17.519,"v":39.188},
{"t":17.529,"v":39.1253},{"t":17.55,"v":39.0978},{"t":17.571,"v":39.0791},{"t":17.608,"v":39.0978},{"t":17.646,"v":39.0791},{"t":17.677,"v":39.1007},{"t":17.714,"v":39.1108},{"t":17.746,"v":39.0805},{"t":17.767,"v":39.1253},{"t":17.794,"v":39.1397},{"t":17.82,"v":39.1685},{"t":17.841,"v":39.2003},{"t":17.862,"v":39.1642},{"t":17.899,"v":39.1469},{"t":17.931,"v":39.1685},{"t":17.968,"v":39.1613},{"t":18.016,"v":39.1981},
{"t":18.037,"v":39.1325},{"t":18.058,"v":39.1079},{"t":18.085,"v":39.0964},{"t":18.116,"v":39.082},{"t":18.153,"v":39.0675},{"t":18.18,"v":39.0603},{"t":18.217,"v":39.0863},{"t":18.243,"v":39.0747},{"t":18.27,"v":39.1253},{"t":18.296,"v":39.1541},{"t":18.323,"v":39.1758},{"t":18.354,"v":39.1685},{"t":18.392,"v":39.1859},{"t":18.434,"v":39.1743},{"t":18.481,"v":39.1642},{"t":18.513,"v":39.201},
{"t":18.534,"v":39.1325},{"t":18.556,"v":39.1108},{"t":18.577,"v":39.0993},{"t":18.614,"v":39.0848},{"t":18.656,"v":39.0935},{"t":18.693,"v":39.082},{"t":18.725,"v":39.0747},{"t":18.746,"v":39.0668},{"t":18.772,"v":39.1397},{"t":18.799,"v":39.1685},{"t":18.831,"v":39.1887},{"t":18.852,"v":39.1974},{"t":18.884,"v":39.1801},{"t":18.926,"v":39.1657},{"t":18.958,"v":39.1758},{"t":18.989,"v":39.1411},{"t":19.016,"v":39.1859},
{"t":19.032,"v":39.118},{"t":19.053,"v":39.0892},{"t":19.074,"v":39.0776},{"t":19.106,"v":39.0964},{"t":19.138,"v":39.1036},{"t":19.159,"v":39.1209},{"t":19.19,"v":39.1079},{"t":19.222,"v":39.0921},{"t":19.249,"v":39.082},{"t":19.275,"v":39.1397},{"t":19.296,"v":39.1685},{"t":19.317,"v":39.1931},{"t":19.328,"v":39.201},{"t":19.37,"v":39.183},{"t":19.423,"v":39.1685},{"t":19.466,"v":39.1613},{"t":19.513,"v":39.2094},
{"t":19.529,"v":39.1397},{"t":19.556,"v":39.0964},{"t":19.582,"v":39.082},{"t":19.598,"v":39.0733},{"t":19.624,"v":39.0935},{"t":19.661,"v":39.1108},{"t":19.688,"v":39.1036},{"t":19.714,"v":39.0935},{"t":19.741,"v":39.0834},{"t":19.767,"v":39.1253},{"t":19.788,"v":39.1613},{"t":19.81,"v":39.1912},{"t":19.847,"v":39.1758},{"t":19.899,"v":39.1584},{"t":19.942,"v":39.1498},{"t":19.979,"v":39.1527},{"t":20.011,"v":39.1957},
{"t":20.032,"v":39.1325},{"t":20.058,"v":39.1007},{"t":20.085,"v":39.0892},{"t":20.122,"v":39.0704},{"t":20.153,"v":39.0646},{"t":20.19,"v":39.0964},{"t":20.227,"v":39.082},{"t":20.249,"v":39.0646},{"t":20.28,"v":39.1253},{"t":20.307,"v":39.1613},{"t":20.333,"v":39.1743},{"t":20.365,"v":39.183},{"t":20.402,"v":39.1498},{"t":20.439,"v":39.1397},{"t":20.481,"v":39.1512},{"t":20.508,"v":39.1784},
{"t":20.524,"v":39.1253},{"t":20.545,"v":39.0993},{"t":20.571,"v":39.082},{"t":20.598,"v":39.0704},{"t":20.64,"v":39.1108},{"t":20.677,"v":39.0906},{"t":20.72,"v":39.0747},{"t":20.757,"v":39.0675},{"t":20.783,"v":39.1253},{"t":20.804,"v":39.1613},{"t":20.831,"v":39.1729},{"t":20.852,"v":39.1657},{"t":20.894,"v":39.1426},{"t":20.931,"v":39.1685},{"t":20.984,"v":39.1397},{"t":21.011,"v":39.1873},
{"t":21.026,"v":39.1253},{"t":21.048,"v":39.0964},{"t":21.074,"v":39.0848},{"t":21.101,"v":39.0762},{"t":21.132,"v":39.0978},{"t":21.169,"v":39.082},{"t":21.206,"v":39.0949},{"t":21.238,"v":39.0646},{"t":21.275,"v":39.1325},{"t":21.307,"v":39.1584},{"t":21.339,"v":39.1707},{"t":21.365,"v":39.144},{"t":21.407,"v":39.1599},{"t":21.46,"v":39.157},{"t":21.508,"v":39.1898},
{"t":21.529,"v":39.1036},{"t":21.55,"v":39.0877},{"t":21.582,"v":39.0675},{"t":21.614,"v":39.0582},{"t":21.646,"v":39.0762},{"t":21.688,"v":39.0877},{"t":21.725,"v":39.1007},{"t":21.751,"v":39.1224},{"t":21.783,"v":39.1469},{"t":21.81,"v":39.1613},{"t":21.841,"v":39.1368},{"t":21.884,"v":39.1527},{"t":21.921,"v":39.1411},{"t":21.963,"v":39.1368},{"t":22.011,"v":39.1768},
{"t":22.032,"v":39.118},{"t":22.053,"v":39.0964},{"t":22.079,"v":39.082},{"t":22.111,"v":39.0704},{"t":22.148,"v":39.0646},{"t":22.175,"v":39.056},{"t":22.201,"v":39.0747},{"t":22.238,"v":39.0978},{"t":22.265,"v":39.1325},{"t":22.291,"v":39.1613},{"t":22.317,"v":39.1815},{"t":22.36,"v":39.1556},{"t":22.397,"v":39.1455},{"t":22.439,"v":39.1483},{"t":22.481,"v":39.1281},{"t":22.513,"v":39.1792},
{"t":22.534,"v":39.1036},{"t":22.556,"v":39.0892},{"t":22.582,"v":39.0762},{"t":22.614,"v":39.0848},{"t":22.651,"v":39.0733},{"t":22.688,"v":39.082},{"t":22.72,"v":39.0719},{"t":22.746,"v":39.0892},{"t":22.772,"v":39.1325},{"t":22.799,"v":39.1469},{"t":22.836,"v":39.1649},{"t":22.873,"v":39.1483},{"t":22.915,"v":39.1397},{"t":22.958,"v":39.1455},{"t":23.005,"v":39.1782},
{"t":23.021,"v":39.1253},{"t":23.042,"v":39.0892},{"t":23.074,"v":39.0762},{"t":23.111,"v":39.0863},{"t":23.153,"v":39.1065},{"t":23.19,"v":39.0719},{"t":23.217,"v":39.082},{"t":23.243,"v":39.0618},{"t":23.27,"v":39.118},{"t":23.296,"v":39.1469},{"t":23.328,"v":39.157},{"t":23.365,"v":39.1397},{"t":23.402,"v":39.1541},{"t":23.444,"v":39.1368},{"t":23.471,"v":39.1339},{"t":23.503,"v":39.1782},
{"t":23.524,"v":39.1036},{"t":23.55,"v":39.0892},{"t":23.577,"v":39.0719},{"t":23.614,"v":39.0906},{"t":23.656,"v":39.0747},{"t":23.693,"v":39.0877},{"t":23.735,"v":39.0711},{"t":23.762,"v":39.1253},{"t":23.788,"v":39.1411},{"t":23.815,"v":39.183},{"t":23.841,"v":39.1801},{"t":23.868,"v":39.1613},{"t":23.905,"v":39.1512},{"t":23.931,"v":39.1368},{"t":23.963,"v":39.1455},{"t":23.989,"v":39.1512}],
"rt":[{"t":0,"v":36.449},{"t":0.039,"v":36.671},{"t":0.078,"v":36.745},{"t":0.117,"v":36.834},{"t":0.156,"v":36.893},{"t":0.195,"v":36.967},{"t":0.234,"v":37.022},{"t":0.257,"v":37.018},{"t":0.273,"v":36.834},{"t":0.312,"v":36.745},{"t":0.351,"v":36.634},{"t":0.39,"v":36.56},{"t":0.445,"v":36.516},{"t":0.507,"v":36.479},
{"t":0.523,"v":36.723},{"t":0.546,"v":36.671},{"t":0.569,"v":36.819},{"t":0.624,"v":36.878},{"t":0.663,"v":36.893},{"t":0.702,"v":37.004},{"t":0.741,"v":37.033},{"t":0.764,"v":36.863},{"t":0.803,"v":36.745},{"t":0.858,"v":36.597},{"t":0.913,"v":36.523},{"t":0.998,"v":36.442},
{"t":1.014,"v":36.656},{"t":1.053,"v":36.745},{"t":1.115,"v":36.863},{"t":1.147,"v":36.893},{"t":1.17,"v":36.848},{"t":1.193,"v":36.974},{"t":1.232,"v":36.993},{"t":1.264,"v":36.834},{"t":1.303,"v":36.708},{"t":1.365,"v":36.597},{"t":1.443,"v":36.471},{"t":1.505,"v":36.423},
{"t":1.521,"v":36.649},{"t":1.56,"v":36.567},{"t":1.599,"v":36.686},{"t":1.638,"v":36.819},{"t":1.677,"v":36.908},{"t":1.739,"v":36.985},{"t":1.771,"v":36.804},{"t":1.817,"v":36.671},{"t":1.872,"v":36.56},{"t":1.95,"v":36.456},{"t":2.005,"v":36.397},
{"t":2.028,"v":36.612},{"t":2.067,"v":36.708},{"t":2.106,"v":36.745},{"t":2.145,"v":36.834},{"t":2.184,"v":36.893},{"t":2.239,"v":36.93},{"t":2.27,"v":36.797},{"t":2.317,"v":36.634},{"t":2.379,"v":36.508},{"t":2.442,"v":36.427},{"t":2.504,"v":36.357},
{"t":2.519,"v":36.575},{"t":2.551,"v":36.516},{"t":2.59,"v":36.641},{"t":2.629,"v":36.745},{"t":2.676,"v":36.878},{"t":2.707,"v":36.826},{"t":2.738,"v":36.945},{"t":2.769,"v":36.752},{"t":2.816,"v":36.597},{"t":2.886,"v":36.471},{"t":2.949,"v":36.39},{"t":3.003,"v":36.342},
{"t":3.027,"v":36.571},{"t":3.081,"v":36.671},{"t":3.144,"v":36.819},{"t":3.175,"v":36.878},{"t":3.198,"v":36.922},{"t":3.237,"v":36.978},{"t":3.268,"v":36.774},{"t":3.315,"v":36.671},{"t":3.393,"v":36.523},{"t":3.456,"v":36.427},{"t":3.502,"v":36.368},
{"t":3.526,"v":36.597},{"t":3.549,"v":36.523},{"t":3.588,"v":36.671},{"t":3.627,"v":36.797},{"t":3.674,"v":36.812},{"t":3.705,"v":36.937},{"t":3.736,"v":36.941},{"t":3.768,"v":36.76},{"t":3.822,"v":36.634},{"t":3.9,"v":36.486},{"t":3.955,"v":36.397},{"t":4.002,"v":36.338},
{"t":4.025,"v":36.56},{"t":4.056,"v":36.486},{"t":4.095,"v":36.708},{"t":4.134,"v":36.671},{"t":4.173,"v":36.804},{"t":4.212,"v":36.819},{"t":4.243,"v":36.848},{"t":4.275,"v":36.723},{"t":4.329,"v":36.597},{"t":4.407,"v":36.449},{"t":4.454,"v":36.375},{"t":4.509,"v":36.323},
{"t":4.532,"v":36.553},{"t":4.579,"v":36.671},{"t":4.626,"v":36.76},{"t":4.665,"v":36.834},{"t":4.704,"v":36.893},{"t":4.735,"v":36.937},{"t":4.766,"v":36.774},{"t":4.813,"v":36.634},{"t":4.875,"v":36.486},{"t":4.938,"v":36.39},{"t":5.0,"v":36.338},
{"t":5.023,"v":36.553},{"t":5.07,"v":36.634},{"t":5.109,"v":36.73},{"t":5.148,"v":36.834},{"t":5.187,"v":36.878},{"t":5.226,"v":36.904},{"t":5.247,"v":36.878},{"t":5.265,"v":36.752},{"t":5.328,"v":36.626},{"t":5.382,"v":36.516},{"t":5.445,"v":36.419},{"t":5.499,"v":36.375},
{"t":5.523,"v":36.597},{"t":5.562,"v":36.671},{"t":5.601,"v":36.745},{"t":5.64,"v":36.774},{"t":5.679,"v":36.834},{"t":5.718,"v":36.933},{"t":5.749,"v":36.804},{"t":5.796,"v":36.686},{"t":5.85,"v":36.582},{"t":5.913,"v":36.508},{"t":5.998,"v":36.419},
{"t":6.022,"v":36.641},{"t":6.045,"v":36.575},{"t":6.084,"v":36.686},{"t":6.123,"v":36.745},{"t":6.162,"v":36.878},{"t":6.201,"v":36.922},{"t":6.232,"v":36.956},{"t":6.264,"v":36.789},{"t":6.318,"v":36.693},{"t":6.373,"v":36.582},{"t":6.435,"v":36.523},{"t":6.498,"v":36.479},
{"t":6.521,"v":36.7},{"t":6.552,"v":36.649},{"t":6.591,"v":36.804},{"t":6.63,"v":36.856},{"t":6.669,"v":36.908},{"t":6.732,"v":36.978},{"t":6.763,"v":36.848},{"t":6.81,"v":36.745},{"t":6.864,"v":36.634},{"t":6.927,"v":36.553},{"t":6.997,"v":36.482},
{"t":7.02,"v":36.686},{"t":7.059,"v":36.745},{"t":7.09,"v":36.804},{"t":7.137,"v":36.826},{"t":7.176,"v":36.9},{"t":7.231,"v":36.971},{"t":7.254,"v":36.826},{"t":7.309,"v":36.745},{"t":7.371,"v":36.634},{"t":7.426,"v":36.538},{"t":7.496,"v":36.464},
{"t":7.512,"v":36.671},{"t":7.543,"v":36.612},{"t":7.582,"v":36.708},{"t":7.629,"v":36.819},{"t":7.683,"v":36.893},{"t":7.738,"v":37.011},{"t":7.761,"v":36.856},{"t":7.816,"v":36.73},{"t":7.878,"v":36.626},{"t":7.933,"v":36.545},{"t":7.995,"v":36.475},
{"t":8.019,"v":36.686},{"t":8.05,"v":36.612},{"t":8.097,"v":36.708},{"t":8.136,"v":36.834},{"t":8.167,"v":36.893},{"t":8.19,"v":36.856},{"t":8.229,"v":36.922},{"t":8.253,"v":36.804},{"t":8.292,"v":36.745},{"t":8.347,"v":36.656},{"t":8.386,"v":36.582},{"t":8.424,"v":36.564},{"t":8.487,"v":36.56},
{"t":8.518,"v":36.782},{"t":8.541,"v":36.723},{"t":8.58,"v":36.819},{"t":8.619,"v":36.878},{"t":8.658,"v":36.922},{"t":8.697,"v":36.967},{"t":8.736,"v":36.998},{"t":8.76,"v":36.863},{"t":8.814,"v":36.774},{"t":8.877,"v":36.671},{"t":8.931,"v":36.575},{"t":8.994,"v":36.53},
{"t":9.017,"v":36.723},{"t":9.048,"v":36.671},{"t":9.087,"v":36.782},{"t":9.142,"v":36.856},{"t":9.181,"v":36.93},{"t":9.236,"v":36.99},{"t":9.259,"v":36.863},{"t":9.306,"v":36.76},{"t":9.36,"v":36.656},{"t":9.423,"v":36.582},{"t":9.493,"v":36.53},
{"t":9.516,"v":36.73},{"t":9.555,"v":36.671},{"t":9.594,"v":36.782},{"t":9.633,"v":36.856},{"t":9.672,"v":36.937},{"t":9.727,"v":37.002},{"t":9.758,"v":36.878},{"t":9.805,"v":36.804},{"t":9.867,"v":36.686},{"t":9.93,"v":36.604},{"t":9.992,"v":36.56},
{"t":10.016,"v":36.767},{"t":10.047,"v":36.715},{"t":10.086,"v":36.819},{"t":10.14,"v":36.915},{"t":10.179,"v":36.989},{"t":10.234,"v":37.041},{"t":10.257,"v":36.937},{"t":10.296,"v":36.856},{"t":10.351,"v":36.767},{"t":10.413,"v":36.686},{"t":10.491,"v":36.615},
{"t":10.515,"v":36.819},{"t":10.538,"v":36.76},{"t":10.585,"v":36.893},{"t":10.632,"v":36.967},{"t":10.686,"v":37.041},{"t":10.733,"v":37.081},{"t":10.764,"v":36.959},{"t":10.803,"v":36.878},{"t":10.866,"v":36.804},{"t":10.92,"v":36.745},{"t":10.991,"v":36.697},
{"t":11.014,"v":36.893},{"t":11.037,"v":36.856},{"t":11.076,"v":36.93},{"t":11.131,"v":37.026},{"t":11.178,"v":37.115},{"t":11.233,"v":37.133},{"t":11.256,"v":37.018},{"t":11.295,"v":36.959},{"t":11.35,"v":36.908},{"t":11.412,"v":36.856},{"t":11.49,"v":36.808},
{"t":11.513,"v":36.974},{"t":11.544,"v":36.952},{"t":11.583,"v":37.004},{"t":11.638,"v":37.085},{"t":11.685,"v":37.151},{"t":11.732,"v":37.198},{"t":11.755,"v":37.092},{"t":11.802,"v":37.041},{"t":11.856,"v":36.959},{"t":11.919,"v":36.893},{"t":12.0,"v":36.837},
{"t":12.023,"v":36.992},{"t":12.055,"v":36.941},{"t":12.094,"v":37.015},{"t":12.133,"v":37.096},{"t":12.172,"v":37.163},{"t":12.211,"v":37.196},{"t":12.242,"v":37.222},{"t":12.265,"v":37.122},{"t":12.304,"v":37.092},{"t":12.343,"v":37.041},{"t":12.39,"v":36.967},{"t":12.445,"v":36.915},{"t":12.507,"v":36.878},
{"t":12.523,"v":36.982},{"t":12.546,"v":37.026},{"t":12.585,"v":37.1},{"t":12.624,"v":37.144},{"t":12.663,"v":37.174},{"t":12.71,"v":37.211},{"t":12.749,"v":37.255},{"t":12.772,"v":37.159},{"t":12.819,"v":37.115},{"t":12.874,"v":37.041},{"t":12.936,"v":36.945},{"t":13.006,"v":36.893},
{"t":13.03,"v":37.041},{"t":13.053,"v":36.989},{"t":13.092,"v":37.092},{"t":13.131,"v":37.159},{"t":13.186,"v":37.211},{"t":13.241,"v":37.248},{"t":13.272,"v":37.159},{"t":13.319,"v":37.122},{"t":13.381,"v":37.033},{"t":13.443,"v":36.952},{"t":13.506,"v":36.9},
{"t":13.529,"v":37.055},{"t":13.553,"v":37.015},{"t":13.599,"v":37.096},{"t":13.654,"v":37.17},{"t":13.693,"v":37.211},{"t":13.74,"v":37.257},{"t":13.771,"v":37.174},{"t":13.81,"v":37.122},{"t":13.865,"v":37.033},{"t":13.927,"v":36.974},{"t":14.005,"v":36.922},
{"t":14.021,"v":37.07},{"t":14.044,"v":37.015},{"t":14.099,"v":37.115},{"t":14.146,"v":37.163},{"t":14.2,"v":37.222},{"t":14.239,"v":37.248},{"t":14.27,"v":37.133},{"t":14.317,"v":37.092},{"t":14.38,"v":37.033},{"t":14.434,"v":36.996},{"t":14.505,"v":36.974},
{"t":14.528,"v":37.128},{"t":14.551,"v":37.115},{"t":14.59,"v":37.159},{"t":14.645,"v":37.196},{"t":14.692,"v":37.226},{"t":14.739,"v":37.271},{"t":14.77,"v":37.166},{"t":14.809,"v":37.115},{"t":14.863,"v":37.07},{"t":14.926,"v":37.018},{"t":15.004,"v":36.974},
{"t":15.027,"v":37.122},{"t":15.058,"v":37.063},{"t":15.097,"v":37.144},{"t":15.136,"v":37.174},{"t":15.175,"v":37.196},{"t":15.23,"v":37.213},{"t":15.261,"v":37.1},{"t":15.308,"v":37.063},{"t":15.371,"v":37.004},{"t":15.433,"v":36.945},{"t":15.503,"v":36.908},
{"t":15.527,"v":37.059},{"t":15.566,"v":37.078},{"t":15.605,"v":37.115},{"t":15.644,"v":37.151},{"t":15.69,"v":37.174},{"t":15.737,"v":37.203},{"t":15.761,"v":37.092},{"t":15.8,"v":37.055},{"t":15.854,"v":36.996},{"t":15.917,"v":36.959},{"t":16.003,"v":36.919},
{"t":16.026,"v":37.078},{"t":16.058,"v":37.011},{"t":16.097,"v":37.115},{"t":16.136,"v":37.159},{"t":16.183,"v":37.203},{"t":16.237,"v":37.227},{"t":16.261,"v":37.122},{"t":16.308,"v":37.078},{"t":16.369,"v":37.011},{"t":16.424,"v":36.959},{"t":16.502,"v":36.915},
{"t":16.525,"v":37.07},{"t":16.556,"v":37.026},{"t":16.596,"v":37.078},{"t":16.642,"v":37.122},{"t":16.689,"v":37.159},{"t":16.736,"v":37.187},{"t":16.767,"v":37.026},{"t":16.814,"v":36.989},{"t":16.861,"v":36.959},{"t":16.915,"v":36.908},{"t":17.001,"v":36.867},
{"t":17.025,"v":37.041},{"t":17.064,"v":37.055},{"t":17.11,"v":37.078},{"t":17.165,"v":37.092},{"t":17.204,"v":37.104},{"t":17.235,"v":37.092},{"t":17.259,"v":36.967},{"t":17.298,"v":36.908},{"t":17.36,"v":36.856},{"t":17.423,"v":36.819},{"t":17.501,"v":36.789},
{"t":17.524,"v":36.967},{"t":17.548,"v":36.893},{"t":17.595,"v":36.952},{"t":17.634,"v":36.996},{"t":17.68,"v":37.018},{"t":17.735,"v":37.033},{"t":17.766,"v":36.9},{"t":17.813,"v":36.834},{"t":17.867,"v":36.789},{"t":17.93,"v":36.76},{"t":18.0,"v":36.734},
{"t":18.023,"v":36.915},{"t":18.047,"v":36.863},{"t":18.086,"v":36.937},{"t":18.141,"v":37.004},{"t":18.187,"v":37.041},{"t":18.234,"v":37.053},{"t":18.265,"v":36.922},{"t":18.312,"v":36.856},{"t":18.359,"v":36.789},{"t":18.421,"v":36.745},{"t":18.507,"v":36.712},
{"t":18.53,"v":36.9},{"t":18.554,"v":36.848},{"t":18.593,"v":36.915},{"t":18.648,"v":36.967},{"t":18.687,"v":36.996},{"t":18.733,"v":37.011},{"t":18.765,"v":36.878},{"t":18.804,"v":36.819},{"t":18.858,"v":36.76},{"t":18.921,"v":36.73},{"t":18.999,"v":36.708},
{"t":19.022,"v":36.9},{"t":19.053,"v":36.878},{"t":19.1,"v":36.908},{"t":19.155,"v":36.93},{"t":19.194,"v":36.959},{"t":19.233,"v":36.971},{"t":19.256,"v":36.848},{"t":19.295,"v":36.774},{"t":19.35,"v":36.715},{"t":19.412,"v":36.671},{"t":19.49,"v":36.667},
{"t":19.514,"v":36.863},{"t":19.545,"v":36.812},{"t":19.592,"v":36.893},{"t":19.646,"v":36.937},{"t":19.701,"v":36.959},{"t":19.732,"v":36.974},{"t":19.755,"v":36.856},{"t":19.794,"v":36.782},{"t":19.857,"v":36.73},{"t":19.919,"v":36.7},{"t":19.997,"v":36.675},
{"t":20.021,"v":36.863},{"t":20.044,"v":36.826},{"t":20.091,"v":36.922},{"t":20.13,"v":36.989},{"t":20.184,"v":37.041},{"t":20.231,"v":37.064},{"t":20.262,"v":36.922},{"t":20.309,"v":36.863},{"t":20.364,"v":36.819},{"t":20.426,"v":36.767},{"t":20.504,"v":36.726},
{"t":20.528,"v":36.915},{"t":20.559,"v":36.893},{"t":20.598,"v":36.952},{"t":20.637,"v":36.989},{"t":20.684,"v":37.026},{"t":20.731,"v":37.052},{"t":20.762,"v":36.915},{"t":20.809,"v":36.856},{"t":20.871,"v":36.797},{"t":20.934,"v":36.76},{"t":21.004,"v":36.726},
{"t":21.027,"v":36.915},{"t":21.059,"v":36.871},{"t":21.105,"v":36.952},{"t":21.152,"v":37.011},{"t":21.199,"v":37.055},{"t":21.222,"v":37.076},{"t":21.261,"v":36.922},{"t":21.308,"v":36.848},{"t":21.363,"v":36.797},{"t":21.425,"v":36.752},{"t":21.495,"v":36.732},
{"t":21.519,"v":36.922},{"t":21.55,"v":36.871},{"t":21.597,"v":36.982},{"t":21.651,"v":37.026},{"t":21.698,"v":37.055},{"t":21.729,"v":37.07},{"t":21.768,"v":36.937},{"t":21.807,"v":36.878},{"t":21.87,"v":36.826},{"t":21.925,"v":36.767},{"t":22.003,"v":36.749},
{"t":22.026,"v":36.93},{"t":22.057,"v":36.893},{"t":22.096,"v":36.982},{"t":22.143,"v":37.041},{"t":22.198,"v":37.078},{"t":22.237,"v":37.085},{"t":22.269,"v":36.952},{"t":22.316,"v":36.871},{"t":22.37,"v":36.812},{"t":22.433,"v":36.767},{"t":22.495,"v":36.741},
{"t":22.518,"v":36.937},{"t":22.55,"v":36.893},{"t":22.589,"v":36.967},{"t":22.643,"v":37.041},{"t":22.69,"v":37.081},{"t":22.729,"v":37.094},{"t":22.76,"v":36.959},{"t":22.807,"v":36.885},{"t":22.862,"v":36.826},{"t":22.916,"v":36.782},{"t":22.994,"v":36.737},
{"t":23.018,"v":36.933},{"t":23.056,"v":36.952},{"t":23.111,"v":37.004},{"t":23.157,"v":37.055},{"t":23.196,"v":37.078},{"t":23.235,"v":37.092},{"t":23.266,"v":36.93},{"t":23.305,"v":36.878},{"t":23.368,"v":36.812},{"t":23.43,"v":36.76},{"t":23.5,"v":36.719},
{"t":23.524,"v":36.911},{"t":23.555,"v":36.856},{"t":23.602,"v":36.952},{"t":23.649,"v":36.996},{"t":23.696,"v":37.033},{"t":23.742,"v":37.057},{"t":23.766,"v":36.922},{"t":23.805,"v":36.856},{"t":23.859,"v":36.789},{"t":23.914,"v":36.745},{"t":24.0,"v":36.715}],
"pc":[{"t":0,"v":20.16},{"t":0.25,"v":20.36},{"t":0.51,"v":20.17},{"t":0.757,"v":20.39},{"t":1.014,"v":20.21},{"t":1.232,"v":20.34},{"t":1.505,"v":20.16},{"t":1.755,"v":20.36},{"t":2.005,"v":20.05},{"t":2.223,"v":20.07},{"t":2.38,"v":19.93},{"t":2.52,"v":19.83},{"t":2.754,"v":20.07},{"t":3.003,"v":19.95},{"t":3.253,"v":20.28},{"t":3.495,"v":20.25},{"t":3.729,"v":20.4},{"t":4.002,"v":20.12},{"t":4.236,"v":20.31},{"t":4.509,"v":20.15},{"t":4.735,"v":20.35},{"t":5.016,"v":20.27},{"t":5.25,"v":20.63},{"t":5.499,"v":20.68},{"t":5.772,"v":21.29},{"t":6.006,"v":21.33},{"t":6.24,"v":21.65},{"t":6.513,"v":21.47},{"t":6.747,"v":21.7},{"t":7.005,"v":21.7},{"t":7.231,"v":21.92},{"t":7.512,"v":21.63},{"t":7.746,"v":21.75},{"t":7.995,"v":21.65},{"t":8.245,"v":22.01},{"t":8.487,"v":22.16},{"t":8.736,"v":22.85},{"t":8.994,"v":23.14},{"t":9.243,"v":23.79},{"t":9.493,"v":24.04},{"t":9.75,"v":24.7},{"t":10.0,"v":25.01},{"t":10.257,"v":25.69},{"t":10.491,"v":25.92},{"t":10.741,"v":26.55},{"t":10.99,"v":26.69},{"t":11.248,"v":27.31},{"t":11.49,"v":27.79},{"t":11.74,"v":28.47},{"t":11.997,"v":28.54},{"t":12.265,"v":29.05},{"t":12.507,"v":29.03},{"t":12.757,"v":29.34},{"t":13.014,"v":29.28},{"t":13.264,"v":29.64},{"t":13.521,"v":29.5},{"t":13.748,"v":29.67},{"t":14.02,"v":29.35},{"t":14.278,"v":29.64},{"t":14.497,"v":29.76},{"t":14.762,"v":30.19},{"t":15.004,"v":30.12},{"t":15.254,"v":30.31},{"t":15.527,"v":29.87},{"t":15.722,"v":29.81},{"t":16.01,"v":29.13},{"t":16.229,"v":29.14},{"t":16.525,"v":28.65},{"t":16.736,"v":28.65},{"t":17.001,"v":28.28},{"t":17.243,"v":28.49},{"t":17.532,"v":27.98},{"t":17.735,"v":27.83},{"t":18.047,"v":27.25},{"t":18.281,"v":27.36},{"t":18.53,"v":27.17},{"t":18.741,"v":27.27},{"t":18.999,"v":27.07},{"t":19.233,"v":27.1},{"t":19.52,"v":26.7},{"t":19.724,"v":26.76},{"t":20.013,"v":26.53},{"t":20.247,"v":26.78},{"t":20.52,"v":26.58},{"t":20.754,"v":26.77},{"t":21.004,"v":26.63},{"t":21.246,"v":26.9},{"t":21.534,"v":26.73},{"t":21.745,"v":26.88},{"t":22.01,"v":26.63},{"t":22.252,"v":26.77},{"t":22.51,"v":26.55},{"t":22.744,"v":26.73},{"t":22.993,"v":26.49},{"t":23.235,"v":26.65},{"t":23.524,"v":26.43},{"t":23.74,"v":26.59},{"t":24.0,"v":26.37}]
},
"vconcat":[
{"data":{"name":"pw"},"width":2743,"height":468,
"title":{"text":"W-band Housekeeping 2024-01-22","fontSize":54,"fontWeight":"normal","color":"black","anchor":"middle","frame":"group","offset":2},
"mark":{"type":"line","color":"black","strokeWidth":3,"clip":true},
"encoding":{
"x":{"field":"t","type":"quantitative","scale":{"domain":[0,24],"nice":false,"zero":false},
"axis":{"values":[0,0.25,0.5,0.75,1,1.25,1.5,1.75,2,2.25,2.5,2.75,3,3.25,3.5,3.75,4,4.25,4.5,4.75,5,5.25,5.5,5.75,6,6.25,6.5,6.75,7,7.25,7.5,7.75,8,8.25,8.5,8.75,9,9.25,9.5,9.75,10,10.25,10.5,10.75,11,11.25,11.5,11.75,12,12.25,12.5,12.75,13,13.25,13.5,13.75,14,14.25,14.5,14.75,15,15.25,15.5,15.75,16,16.25,16.5,16.75,17,17.25,17.5,17.75,18,18.25,18.5,18.75,19,19.25,19.5,19.75,20,20.25,20.5,20.75,21,21.25,21.5,21.75,22,22.25,22.5,22.75,23,23.25,23.5,23.75,24],
"labels":false,"title":null,
"gridOpacity":{"condition":{"test":"datum.value % 1 === 0 && datum.value > 0 && datum.value < 24","value":1},"value":0},
"tickSize":{"condition":{"test":"datum.value % 1 === 0","value":20},"value":11}}},
"y":{"field":"v","type":"quantitative","scale":{"domain":[1.4865,1.5356],"nice":false,"zero":false},
"axis":{"values":[1.49,1.5,1.51,1.52,1.53],"format":".2f","title":"Trans. Power [W]"}}}},
{"data":{"name":"tt"},"width":2743,"height":468,
"mark":{"type":"line","color":"#d62728","strokeWidth":3,"clip":true},
"encoding":{
"x":{"field":"t","type":"quantitative","scale":{"domain":[0,24],"nice":false,"zero":false},
"axis":{"values":[0,0.25,0.5,0.75,1,1.25,1.5,1.75,2,2.25,2.5,2.75,3,3.25,3.5,3.75,4,4.25,4.5,4.75,5,5.25,5.5,5.75,6,6.25,6.5,6.75,7,7.25,7.5,7.75,8,8.25,8.5,8.75,9,9.25,9.5,9.75,10,10.25,10.5,10.75,11,11.25,11.5,11.75,12,12.25,12.5,12.75,13,13.25,13.5,13.75,14,14.25,14.5,14.75,15,15.25,15.5,15.75,16,16.25,16.5,16.75,17,17.25,17.5,17.75,18,18.25,18.5,18.75,19,19.25,19.5,19.75,20,20.25,20.5,20.75,21,21.25,21.5,21.75,22,22.25,22.5,22.75,23,23.25,23.5,23.75,24],
"labels":false,"title":null,
"gridOpacity":{"condition":{"test":"datum.value % 1 === 0 && datum.value > 0 && datum.value < 24","value":1},"value":0},
"tickSize":{"condition":{"test":"datum.value % 1 === 0","value":20},"value":11}}},
"y":{"field":"v","type":"quantitative","scale":{"domain":[39.0202,39.2222],"nice":false,"zero":false},
"axis":{"values":[39.05,39.1,39.15,39.2],"format":".2f","title":"Trans. Temp [°C]"}}}},
{"data":{"name":"rt"},"width":2743,"height":468,
"mark":{"type":"line","color":"#ff7f0e","strokeWidth":2.6,"clip":true},
"encoding":{
"x":{"field":"t","type":"quantitative","scale":{"domain":[0,24],"nice":false,"zero":false},
"axis":{"values":[0,0.25,0.5,0.75,1,1.25,1.5,1.75,2,2.25,2.5,2.75,3,3.25,3.5,3.75,4,4.25,4.5,4.75,5,5.25,5.5,5.75,6,6.25,6.5,6.75,7,7.25,7.5,7.75,8,8.25,8.5,8.75,9,9.25,9.5,9.75,10,10.25,10.5,10.75,11,11.25,11.5,11.75,12,12.25,12.5,12.75,13,13.25,13.5,13.75,14,14.25,14.5,14.75,15,15.25,15.5,15.75,16,16.25,16.5,16.75,17,17.25,17.5,17.75,18,18.25,18.5,18.75,19,19.25,19.5,19.75,20,20.25,20.5,20.75,21,21.25,21.5,21.75,22,22.25,22.5,22.75,23,23.25,23.5,23.75,24],
"labels":false,"title":null,
"gridOpacity":{"condition":{"test":"datum.value % 1 === 0 && datum.value > 0 && datum.value < 24","value":1},"value":0},
"tickSize":{"condition":{"test":"datum.value % 1 === 0","value":20},"value":11}}},
"y":{"field":"v","type":"quantitative","scale":{"domain":[36.28,37.316],"nice":false,"zero":false},
"axis":{"values":[36.5,36.75,37,37.25],"format":".2f","title":"Rec. Temp [°C]"}}}},
{"data":{"name":"pc"},"width":2743,"height":468,
"mark":{"type":"line","color":"#1f77b4","strokeWidth":4,"clip":true},
"encoding":{
"x":{"field":"t","type":"quantitative","scale":{"domain":[0,24],"nice":false,"zero":false},
"axis":{"values":[0,0.25,0.5,0.75,1,1.25,1.5,1.75,2,2.25,2.5,2.75,3,3.25,3.5,3.75,4,4.25,4.5,4.75,5,5.25,5.5,5.75,6,6.25,6.5,6.75,7,7.25,7.5,7.75,8,8.25,8.5,8.75,9,9.25,9.5,9.75,10,10.25,10.5,10.75,11,11.25,11.5,11.75,12,12.25,12.5,12.75,13,13.25,13.5,13.75,14,14.25,14.5,14.75,15,15.25,15.5,15.75,16,16.25,16.5,16.75,17,17.25,17.5,17.75,18,18.25,18.5,18.75,19,19.25,19.5,19.75,20,20.25,20.5,20.75,21,21.25,21.5,21.75,22,22.25,22.5,22.75,23,23.25,23.5,23.75,24],
"labelExpr":"datum.value % 1 ? '' : ((datum.value % 24) < 10 ? '0' : '') + (datum.value % 24)",
"labelOverlap":false,"labelFlush":false,"labelPadding":8,
"title":"Time [UTC]","titlePadding":6,
"gridOpacity":{"condition":{"test":"datum.value % 1 === 0 && datum.value > 0 && datum.value < 24","value":1},"value":0},
"tickSize":{"condition":{"test":"datum.value % 1 === 0","value":20},"value":11}}},
"y":{"field":"v","type":"quantitative","scale":{"domain":[19.3,30.85],"nice":false,"zero":false},
"axis":{"values":[20,22.5,25,27.5,30],"format":".1f","title":"PC Temp [°C]"}}}}
],
"config":{
"font":"DejaVu Sans",
"view":{"stroke":"#262626","strokeWidth":3},
"axis":{"domain":false,"grid":true,"gridColor":"#b0b0b0","gridWidth":2.5,
"ticks":true,"tickColor":"#262626","tickWidth":3,"tickSize":18,
"labelFont":"DejaVu Sans","labelFontSize":43,"labelColor":"black","labelPadding":10,
"titleFont":"DejaVu Sans","titleFontSize":48,"titleFontWeight":"normal","titleColor":"black","titlePadding":12},
"title":{"font":"DejaVu Sans"}
}
}
